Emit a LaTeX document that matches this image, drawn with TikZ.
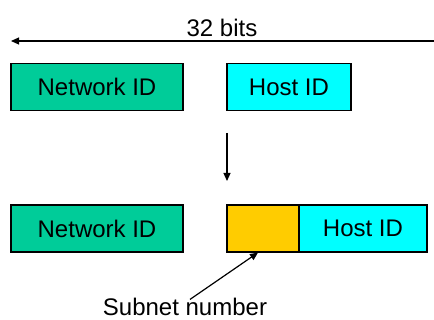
\documentclass[tikz,border=0pt]{standalone}
\usepackage{fontspec}
\setmainfont{Liberation Sans}
\usetikzlibrary{arrows.meta}
\definecolor{netgreen}{RGB}{0,204,153}
\definecolor{hostcyan}{RGB}{0,255,255}
\definecolor{subnetorange}{RGB}{255,204,0}
\begin{document}
\begin{tikzpicture}[x=1pt,y=-1pt,
  field/.style={draw=black,line width=1.2pt,inner sep=0pt,minimum height=47pt,
    font=\fontsize{24}{28}\selectfont,text=black},
  lbl/.style={inner sep=0pt,font=\fontsize{24}{28}\selectfont},
  arr/.style={line width=1.2pt,-{Triangle[length=8pt,width=7pt]}}]
\useasboundingbox (0,0) rectangle (434,320);
% top dimension arrow
\coordinate (L) at (11,41);
\coordinate (R) at (434,41);
\draw[arr] (R) -- (L);
\node[lbl,anchor=base] (bits) at (222,37) {32 bits};
% first row
\node[field,fill=netgreen,minimum width=172pt] (net1) at (97,87) {Network ID};
\node[field,fill=hostcyan,minimum width=124pt] (host1) at (289,87) {Host ID};
% transition arrow
\coordinate (d1) at (227,133);
\coordinate (d2) at (227,181);
\draw[arr] (d1) -- (d2);
% second row
\node[field,fill=netgreen,minimum width=172pt] (net2) at (97,228.5) {Network ID};
\node[field,fill=subnetorange,minimum width=72pt] (sub) at (263,228.5) {};
\node[field,fill=hostcyan,minimum width=128pt] (host2) at (363,228.5) {Host ID};
% subnet label
\node[lbl,anchor=base] (sn) at (185,316) {Subnet number};
\draw[arr] ([xshift=5pt,yshift=-1pt]sn.north) -- ([xshift=-5pt]sub.south);
\end{tikzpicture}
\end{document}
